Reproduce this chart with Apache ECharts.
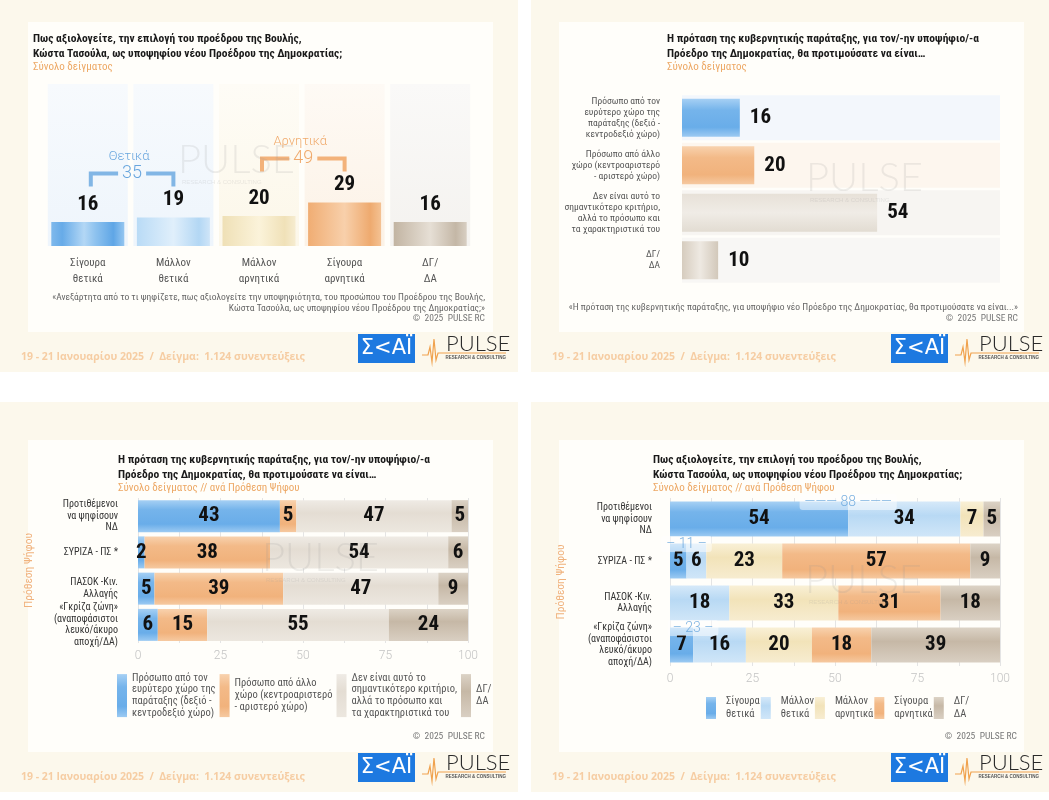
<!DOCTYPE html>
<html><head><meta charset="utf-8">
<script src="https://cdn.jsdelivr.net/npm/echarts@6/dist/echarts.min.js"></script>
<style>html,body{margin:0;padding:0;background:#fff}#c{width:1049px;height:800px}</style>
</head><body><div id="c"></div>
<script>
// ---------- DATA ----------
// Panel 1
const p1Categories = ['Σίγουρα\nθετικά','Μάλλον\nθετικά','Μάλλον\nαρνητικά','Σίγουρα\nαρνητικά','ΔΓ/\nΔΑ'];
const p1Values = [16,19,20,29,16];
const p1GroupNames = ['Θετικά','Αρνητικά'];
const p1GroupFrom = [0,2];
const p1GroupTo = [1,3];
const p1GroupTotals = [35,49];
// Panel 2
const p2Categories = ['Πρόσωπο από τον\nευρύτερο χώρο της\nπαράταξης (δεξιό -\nκεντροδεξιό χώρο)','Πρόσωπο από άλλο\nχώρο (κεντροαριστερό\n- αριστερό χώρο)','Δεν είναι αυτό το\nσημαντικότερο κριτήριο,\nαλλά το πρόσωπο και\nτα χαρακτηριστικά του','ΔΓ/\nΔΑ'];
const p2Values = [16,20,54,10];
// Panel 3 & 4 rows
const voteGroups = ['Προτιθέμενοι\nνα ψηφίσουν\nΝΔ','ΣΥΡΙΖΑ - ΠΣ *','ΠΑΣΟΚ -Κιν.\nΑλλαγής','«Γκρίζα ζώνη»\n(αναποφάσιστοι\nλευκό/άκυρο\nαποχή/ΔΑ)'];
const p3SeriesNames = ['Πρόσωπο από τον ευρύτερο χώρο','Πρόσωπο από άλλο χώρο','Δεν είναι αυτό το σημαντικότερο κριτήριο','ΔΓ/ΔΑ πρόταση'];
const p3LegendLabels = ['Πρόσωπο από τον\nευρύτερο χώρο της\nπαράταξης (δεξιό -\nκεντροδεξιό χώρο)','Πρόσωπο από άλλο\nχώρο (κεντροαριστερό\n- αριστερό χώρο)','Δεν είναι αυτό το\nσημαντικότερο κριτήριο,\nαλλά το πρόσωπο και\nτα χαρακτηριστικά του','ΔΓ/\nΔΑ'];
const p3Right = [43,2,5,6];
const p3Other = [5,38,39,15];
const p3NotKey = [47,54,47,55];
const p3DkNa = [5,6,9,24];
const p4SeriesNames = ['Σίγουρα θετικά','Μάλλον θετικά','Μάλλον αρνητικά','Σίγουρα αρνητικά','ΔΓ/ΔΑ'];
const p4LegendLabels = ['Σίγουρα\nθετικά','Μάλλον\nθετικά','Μάλλον\nαρνητικά','Σίγουρα\nαρνητικά','ΔΓ/\nΔΑ'];
const p4SurePos = [54,5,0,7];
const p4RatherPos = [34,6,18,16];
const p4RatherNeg = [7,23,33,20];
const p4SureNeg = [0,57,31,18];
const p4DkNa = [5,9,18,39];
const p4PosTotals = [88,11,null,23];
const xTickLabels = [0,25,50,75,100];

// ---------- STYLE ----------
const F = '"Roboto Condensed","Liberation Sans Narrow","Arial Narrow","DejaVu Sans Condensed",Roboto,sans-serif';
const G = echarts.graphic;
const grad = (dir, stops) => new G.LinearGradient(0,0,dir==='x'?1:0,dir==='x'?0:1, stops.map(s=>({offset:s[0],color:s[1]})));
const colBlue = grad('x',[[0,'#7fb9ec'],[0.15,'#67abe8'],[0.45,'#b3d7f5'],[0.6,'#8fc3ef'],[0.85,'#5fa6e6'],[1,'#95c6f0']]);
const colLBlue = grad('x',[[0,'#b9dbf6'],[0.5,'#e0effb'],[0.85,'#b3d7f4'],[1,'#cfe5f8']]);
const colYel = grad('x',[[0,'#efe0b6'],[0.5,'#fbf3da'],[0.85,'#f0e1b8'],[1,'#f6ecd0']]);
const colOr = grad('x',[[0,'#f0ad73'],[0.5,'#f8d0ab'],[0.85,'#eeaa6f'],[1,'#f4c293']]);
const colTaupe = grad('x',[[0,'#c2b4a2'],[0.5,'#e6dfd5'],[0.85,'#c4b7a6'],[1,'#d8cfc3']]);
const p1Colors = [colBlue,colLBlue,colYel,colOr,colTaupe];
const p1BgColors = [
  grad('y',[[0,'#f7fafd'],[1,'#eef5fc']]),
  grad('y',[[0,'#f7fafd'],[1,'#eef5fc']]),
  grad('y',[[0,'#fefcf6'],[1,'#fcf7e9']]),
  grad('y',[[0,'#fefaf5'],[1,'#fcf2e6']]),
  grad('y',[[0,'#faf9f8'],[1,'#f4f2ef']])
];
const P1_BG = 108;
const hBlue = grad('y',[[0,'#a6d0f4'],[0.3,'#75b4eb'],[0.75,'#69ade9'],[1,'#9ccaf2']]);
const hLBlue = grad('y',[[0,'#d6e9f9'],[0.4,'#b8d9f4'],[1,'#d0e6f8']]);
const hYel = grad('y',[[0,'#f9f0d6'],[0.4,'#f2e3b9'],[1,'#f7ecd0']]);
const hOr = grad('y',[[0,'#f8d2ae'],[0.3,'#f3ba88'],[0.75,'#f1b27c'],[1,'#f6c9a0']]);
const hNotKey = grad('y',[[0,'#efebe5'],[0.4,'#e4ddd3'],[1,'#ece7df']]);
const hDk = grad('y',[[0,'#dcd3c6'],[0.4,'#c6b8a6'],[1,'#d9cfc2']]);
const p2Colors = [hBlue,hOr,grad('y',[[0,'#e7e1d8'],[0.5,'#f0ece6'],[1,'#e2dcd2']]),grad('x',[[0,'#d6ccbe'],[0.5,'#eee9e2'],[1,'#d2c8ba']])];
const p2BgColors = ['#f3f7fc','#fdf6ee','#f7f5f2','#f8f7f5'];
const P2_MAX = 88;

const numLabel = {fontFamily:F,fontWeight:'bold',fontSize:21,color:'#111'};

// ---------- DECORATION ----------
const graphics = [];
function panel(x,y,w,h,cx,cy,cw,ch){
  graphics.push({type:'rect',silent:true,z:-10,shape:{x,y,width:w,height:h},style:{fill:'#fcf8ec'}});
  graphics.push({type:'rect',silent:true,z:-9,shape:{x:cx,y:cy,width:cw,height:ch},style:{fill:'#fffefa'}});
}
function txt(x,y,text,o){
  graphics.push(Object.assign({type:'text',silent:true,z:5,x,y,style:Object.assign({text,fontFamily:F,fontSize:11,fill:'#222',verticalAlign:'middle'},o||{})}));
}
function title(x,y,lines,sub){
  txt(x,y,lines,{fontWeight:'bold',fontSize:11.5,lineHeight:15,fill:'#1a1a1a',verticalAlign:'top'});
  txt(x,y+35,sub,{fontSize:11,fill:'#eda865'});
}
function footer(x,y){
  txt(x,y,'19 - 21 Ιανουαρίου 2025  /  Δείγμα:  1.124 συνεντεύξεις',{fontFamily:'"Open Sans",sans-serif',fontWeight:'bold',fontSize:10.5,fill:'#f6cda3'});
}
function logos(x,y){
  graphics.push({type:'rect',silent:true,z:5,shape:{x,y,width:57,height:29},style:{fill:'#1d79e0'}});
  graphics.push({type:'text',silent:true,z:6,x:x+28.5,y:y+15,style:{text:'Σ<ΑΪ',fontFamily:'"DejaVu Sans",sans-serif',fontSize:21,fill:'#fff',align:'center',verticalAlign:'middle'}});
  graphics.push({type:'polyline',silent:true,z:6,shape:{points:[[x+64,y+21],[x+70,y+21],[x+72,y+13],[x+74,y+28],[x+76,y+5],[x+78,y+26],[x+80,y+19],[x+148,y+19]]},style:{stroke:'#f0a24e',lineWidth:1.2,fill:null}});
  graphics.push({type:'text',silent:true,z:6,x:x+88,y:y+10,style:{text:'PULSE',fontFamily:'Lato,"Open Sans",sans-serif',fontWeight:300,fontSize:22,fill:'#2a2a2a',verticalAlign:'middle'}});
  graphics.push({type:'text',silent:true,z:6,x:x+148,y:y+24,style:{text:'RESEARCH & CONSULTING',fontFamily:'sans-serif',fontWeight:'bold',fontSize:4.5,fill:'#555',align:'right',verticalAlign:'middle'}});
}
function watermark(x,y){
  graphics.push({type:'text',silent:true,z:20,x,y,style:{text:'PULSE',fontFamily:'Lato,"Open Sans",sans-serif',fontWeight:300,fontSize:40,fill:'rgba(150,150,150,0.16)',verticalAlign:'middle'}});
  graphics.push({type:'text',silent:true,z:20,x:x+4,y:y+22,style:{text:'RESEARCH & CONSULTING',fontFamily:'sans-serif',fontSize:6,fill:'rgba(150,150,150,0.2)',verticalAlign:'middle'}});
}
function copy(x,y){ txt(x,y,'©  2025  PULSE RC',{fontSize:9.5,fill:'#777',align:'right'}); }

panel(0,0,518,372,28,22,465,310);
panel(531,0,518,372,559,22,465,310);
panel(0,402,518,390,28,440,465,312);
panel(531,402,518,390,559,440,465,312);

title(33,32,'Πως αξιολογείτε, την επιλογή του προέδρου της Βουλής,\nΚώστα Τασούλα, ως υποψηφίου νέου Προέδρου της Δημοκρατίας;','Σύνολο δείγματος');
title(667,32,'Η πρόταση της κυβερνητικής παράταξης, για τον/-ην υποψήφιο/-α\nΠρόεδρο της Δημοκρατίας, θα προτιμούσατε να είναι…','Σύνολο δείγματος');
title(118,453,'Η πρόταση της κυβερνητικής παράταξης, για τον/-ην υποψήφιο/-α\nΠρόεδρο της Δημοκρατίας, θα προτιμούσατε να είναι…','Σύνολο δείγματος // ανά Πρόθεση Ψήφου');
title(653,453,'Πως αξιολογείτε, την επιλογή του προέδρου της Βουλής,\nΚώστα Τασούλα, ως υποψηφίου νέου Προέδρου της Δημοκρατίας;','Σύνολο δείγματος // ανά Πρόθεση Ψήφου');

txt(485,303,'«Ανεξάρτητα από το τι ψηφίζετε, πως αξιολογείτε την υποψηφιότητα, του προσώπου του Προέδρου της Βουλής,\nΚώστα Τασούλα, ως υποψηφίου νέου Προέδρου της Δημοκρατίας;»',{fontSize:9.5,lineHeight:10.5,fill:'#666',align:'right'});
copy(485,319);
txt(1018,308,'«Η πρόταση της κυβερνητικής παράταξης, για υποψήφιο νέο Πρόεδρο της Δημοκρατίας, θα προτιμούσατε να είναι...»',{fontSize:9.5,fill:'#666',align:'right'});
copy(1018,319);
copy(485,737);
copy(1017,737);

footer(21,357); footer(552,357); footer(21,777); footer(552,777);
logos(358,334); logos(891,334); logos(358,753); logos(891,753);
watermark(178,160); watermark(806,178); watermark(262,558); watermark(805,580);

// ---------- CHART ----------
const chart = echarts.init(document.getElementById('c'),null,{renderer:'canvas'});
const stackLabel = {show:true,position:'inside',...numLabel,formatter:p=>p.value>0?p.value:''};
const valAxis = (grid)=>({type:'value',gridIndex:grid,min:0,max:100,interval:12.5,
  axisLine:{show:false},axisTick:{show:false},
  splitLine:{show:true,lineStyle:{color:'#e4e4e4',width:1}},
  axisLabel:{margin:7,fontFamily:'Roboto,sans-serif',fontWeight:300,fontSize:12,color:'#c3c3c3',formatter:v=>xTickLabels.includes(v)?String(v):''}});
const catAxis = (grid,margin)=>({type:'category',gridIndex:grid,data:voteGroups,inverse:true,
  axisLine:{show:false},axisTick:{show:false},
  axisLabel:{margin,fontFamily:F,fontSize:10,lineHeight:11.5,color:'#333',align:'right'},
  name:'Πρόθεση Ψήφου',nameLocation:'middle',nameRotate:90,nameGap:103,
  nameTextStyle:{fontFamily:F,fontSize:11.5,color:'#f0b27d'}});

const p3Colors = [hBlue,hOr,hNotKey,hDk];
const p3Data = [p3Right,p3Other,p3NotKey,p3DkNa];
const p4Colors = [hBlue,hLBlue,hYel,hOr,hDk];
const p4Data = [p4SurePos,p4RatherPos,p4RatherNeg,p4SureNeg,p4DkNa];

const series = [
  {type:'bar',name:'p1bg',xAxisIndex:1,yAxisIndex:0,barWidth:80,silent:true,z:1,
   data:p1Values.map((v,i)=>({value:P1_BG,itemStyle:{color:p1BgColors[i]}}))},
  {type:'bar',name:'p1',xAxisIndex:0,yAxisIndex:0,barWidth:73,z:3,
   data:p1Values.map((v,i)=>({value:v,itemStyle:{color:p1Colors[i]}})),
   label:{show:true,position:'top',distance:7,...numLabel}},
  {type:'custom',name:'p1groups',xAxisIndex:0,yAxisIndex:0,z:4,silent:true,
   data:p1GroupTotals.map((t,i)=>[p1GroupFrom[i],p1GroupTo[i],t]),
   renderItem:(params,api)=>{
     const i = params.dataIndex;
     const s = api.value(0), e = api.value(1);
     const maxV = Math.max(...p1Values.slice(s,e+1));
     const a = api.coord([s,maxV]), b = api.coord([e,maxV]);
     const y = a[1]-44, x0 = a[0]+3, x1 = b[0];
     const mid = (x0+x1)/2;
     const lc = i===0?'#82b6e5':'#f3b27a', tc = i===0?'#69a6de':'#f0aa6c';
     const ls = {stroke:lc,lineWidth:4,fill:null};
     return {type:'group',children:[
       {type:'polyline',shape:{points:[[x0,y+13],[x0,y],[mid-14,y]]},style:ls},
       {type:'polyline',shape:{points:[[mid+14,y],[x1,y],[x1,y+13]]},style:ls},
       {type:'text',style:{text:String(api.value(2)),x:mid,y:y,align:'center',verticalAlign:'middle',fontFamily:'Roboto,sans-serif',fontWeight:300,fontSize:18,fill:tc}},
       {type:'text',style:{text:p1GroupNames[i],x:mid-3,y:y-17,align:'center',verticalAlign:'middle',fontFamily:'Roboto,sans-serif',fontWeight:300,fontSize:13,fill:tc}}
     ]};
   }},
  {type:'bar',name:'p2bg',xAxisIndex:2,yAxisIndex:2,barWidth:45,silent:true,z:1,
   data:p2Values.map((v,i)=>({value:P2_MAX,itemStyle:{color:p2BgColors[i]}}))},
  {type:'bar',name:'p2',xAxisIndex:2,yAxisIndex:1,barWidth:38,z:3,
   data:p2Values.map((v,i)=>({value:v,itemStyle:{color:p2Colors[i]}})),
   label:{show:true,position:'right',distance:10,...numLabel}}
];
p3SeriesNames.forEach((n,k)=>series.push({type:'bar',name:n,xAxisIndex:3,yAxisIndex:3,stack:'p3',barWidth:32,
  itemStyle:{color:p3Colors[k]},data:p3Data[k],label:stackLabel}));
p4SeriesNames.forEach((n,k)=>series.push({type:'bar',name:n,xAxisIndex:4,yAxisIndex:4,stack:'p4',barWidth:35,
  itemStyle:{color:p4Colors[k]},data:p4Data[k],label:stackLabel}));
series.push({type:'scatter',name:'p4totals',xAxisIndex:4,yAxisIndex:4,symbolSize:0,silent:true,z:10,
  data:p4PosTotals.map((t,i)=>t==null?null:{value:[p4SurePos[i],i],total:t}).filter(d=>d),
  label:{show:true,position:'inside',offset:[0,-17],fontFamily:'Roboto,sans-serif',fontWeight:300,fontSize:14,color:'#5d9fd9',
    backgroundColor:'rgba(255,255,255,0.6)',padding:[1,5],borderRadius:3,
    formatter:p=>p.data.total>=50?'——— '+p.data.total+' ———':'– '+p.data.total+' –'}});

chart.setOption({
  animation:false,
  backgroundColor:'#ffffff',
  graphic:graphics,
  grid:[
    {left:45,width:428,top:81,height:165},
    {left:682,width:318,top:94,height:190},
    {left:138,width:330,top:498,height:145},
    {left:670,width:330,top:498,height:168}
  ],
  xAxis:[
    {type:'category',gridIndex:0,data:p1Categories,axisLine:{show:false},axisTick:{show:false},
     axisLabel:{margin:9,fontFamily:F,fontSize:11,lineHeight:16,color:'#555'}},
    {type:'category',gridIndex:0,data:p1Categories,show:false},
    {type:'value',gridIndex:1,min:0,max:P2_MAX,show:false},
    valAxis(2),
    valAxis(3)
  ],
  yAxis:[
    {type:'value',gridIndex:0,min:0,max:110,show:false},
    {type:'category',gridIndex:1,data:p2Categories,inverse:true,axisLine:{show:false},axisTick:{show:false},
     axisLabel:{margin:22,fontFamily:F,fontSize:9.5,lineHeight:11,color:'#555',align:'right'}},
    {type:'category',gridIndex:1,data:p2Categories,inverse:true,show:false},
    catAxis(2,20),
    catAxis(3,18)
  ],
  legend:[
    {data:p3SeriesNames,left:117,top:672,padding:0,orient:'horizontal',icon:'rect',itemWidth:10,itemHeight:43,itemGap:4,
     selectedMode:false,formatter:n=>p3LegendLabels[p3SeriesNames.indexOf(n)],
     textStyle:{fontFamily:F,fontSize:10.5,lineHeight:11.8,color:'#555'}},
    {data:p4SeriesNames,left:706,top:695,padding:0,orient:'horizontal',icon:'rect',itemWidth:10,itemHeight:22,itemGap:1,
     selectedMode:false,formatter:n=>p4LegendLabels[p4SeriesNames.indexOf(n)],
     textStyle:{fontFamily:F,fontSize:10.5,lineHeight:13,color:'#555',padding:[0,0,0,5]}}
  ],
  series
});
</script>
</body></html>
